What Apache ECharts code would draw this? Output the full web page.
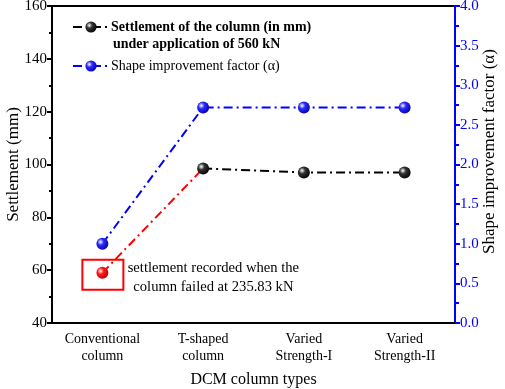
<!DOCTYPE html>
<html>
<head>
<meta charset="utf-8">
<script src="https://cdn.jsdelivr.net/npm/echarts@6/dist/echarts.min.js"></script>
<style>
  html, body { margin: 0; padding: 0; background: #fff; }
  #chart { width: 505px; height: 389px; }
</style>
</head>
<body>
<div id="chart"></div>
<script>
const columnTypes = ['Conventional\ncolumn', 'T-shaped\ncolumn', 'Varied\nStrength-I', 'Varied\nStrength-II'];
// settlement (mm) after 560 kN, first column failed earlier -> shown in red
const settlement = [null, 98.5, 97.0, 97.0];
const failedSettlement = [59.0, 98.5, null, null];
const shapeFactor = [1.0, 2.72, 2.72, 2.72];

const serif = 'Liberation Serif';
const settleName = 'Settlement of the column (in mm)';
const shapeName = 'Shape improvement factor (\u03b1)';

function ball(c, dark) {
  return {
    type: 'radial', x: 0.35, y: 0.35, r: 0.75,
    colorStops: [
      {offset: 0, color: '#ffffff'},
      {offset: 0.35, color: c},
      {offset: 1, color: dark}
    ]
  };
}
const dashDot = [9, 4, 2, 4];

const chart = echarts.init(document.getElementById('chart'));

const opts = {
  animation: false,
  textStyle: {fontFamily: serif},
  grid: {left: 52, right: 50, top: 6, bottom: 66, show: true, borderColor: '#000', borderWidth: 2,
    outerBoundsMode: 'none', containLabel: false},
  legend: {
    orient: 'vertical',
    left: 72, top: 20,
    padding: 0,
    itemWidth: 36, itemHeight: 14,
    itemGap: 25,
    textStyle: {fontFamily: serif, fontSize: 14, color: '#000', padding: [0, 0, 0, -3]},
    data: [
      {name: settleName, textStyle: {fontWeight: 'bold'}},
      {name: shapeName}
    ]
  },
  xAxis: [
    {
      type: 'category',
      data: columnTypes,
      axisLine: {lineStyle: {color: '#000', width: 2}},
      axisTick: {alignWithLabel: true, length: 6, lineStyle: {width: 2, color: '#000'}},
      axisLabel: {fontSize: 14, color: '#000', lineHeight: 17, margin: 8, fontFamily: serif},
      name: 'DCM column types',
      nameLocation: 'middle',
      nameGap: 49,
      nameMoveOverlap: false,
      nameTextStyle: {fontSize: 16, color: '#000', fontFamily: serif}
    },
    {
      type: 'category',
      data: columnTypes,
      position: 'bottom',
      axisLine: {show: false},
      axisTick: {length: 4, lineStyle: {width: 2, color: '#000'}},
      axisLabel: {show: false}
    }
  ],
  yAxis: [
    {
      type: 'value',
      min: 40, max: 160, interval: 20,
      splitLine: {show: false},
      axisLine: {show: true, lineStyle: {color: '#000', width: 2}},
      axisTick: {show: true, length: 5, lineStyle: {width: 2}},
      minorTick: {show: true, splitNumber: 2, length: 3, lineStyle: {color: '#000', width: 2}},
      axisLabel: {fontSize: 15, color: '#000', margin: 5, fontFamily: serif},
      name: 'Settlement (mm)',
      nameLocation: 'middle',
      nameGap: 30,
      nameMoveOverlap: false,
      nameTextStyle: {fontSize: 17, color: '#000', fontFamily: serif}
    },
    {
      type: 'value',
      min: 0, max: 4, interval: 0.5,
      position: 'right',
      splitLine: {show: false},
      axisLine: {show: true, lineStyle: {color: '#0000ff', width: 2}},
      axisTick: {show: true, length: 5, lineStyle: {width: 2, color: '#0000ff'}},
      minorTick: {show: true, splitNumber: 2, length: 4, lineStyle: {color: '#0000ff', width: 2}},
      axisLabel: {fontSize: 15, color: '#0000ff', margin: 5, fontFamily: serif,
        formatter: v => v.toFixed(1)},
      name: 'Shape improvement factor (\u03b1)',
      nameLocation: 'middle',
      nameGap: 26,
      nameMoveOverlap: false,
      nameTextStyle: {fontSize: 17, color: '#000', fontFamily: serif, padding: [0, 0, 0, 26]}
    }
  ],
  series: [
    {
      name: 'failed',
      type: 'line',
      yAxisIndex: 0,
      data: failedSettlement.map((v, i) => i === 0 ? {value: v} : {value: v, symbol: 'none'}),
      connectNulls: false,
      symbol: 'circle', symbolSize: 12,
      lineStyle: {color: '#ff0000', width: 2, type: dashDot},
      itemStyle: {color: ball('#ff1a1a', '#b00000'), borderWidth: 0}
    },
    {
      name: settleName,
      type: 'line',
      yAxisIndex: 0,
      data: settlement,
      symbol: 'circle', symbolSize: 12,
      lineStyle: {color: '#000', width: 2, type: dashDot},
      itemStyle: {color: ball('#333333', '#000000'), borderWidth: 0}
    },
    {
      name: shapeName,
      type: 'line',
      yAxisIndex: 1,
      data: shapeFactor,
      symbol: 'circle', symbolSize: 12,
      lineStyle: {color: '#0000ff', width: 2, type: dashDot},
      itemStyle: {color: ball('#2a2aff', '#0000a0'), borderWidth: 0}
    }
  ]
};

chart.setOption(opts);

// annotation around the failed point
const p = chart.convertToPixel({xAxisIndex: 0, yAxisIndex: 0}, [0, failedSettlement[0]]);
chart.setOption({
  graphic: [
    {
      type: 'text', left: 113, top: 37,
      style: {text: 'under application of 560 kN', font: 'bold 14px ' + serif, fill: '#000'}
    },
    {
      type: 'rect', shape: {x: p[0] - 20, y: p[1] - 13, width: 41, height: 30},
      style: {fill: 'none', stroke: '#ff0000', lineWidth: 2}
    },
    {
      type: 'text', x: p[0] + 111, y: p[1] - 14,
      style: {
        text: 'settlement recorded when the\ncolumn failed at 235.83 kN',
        font: '14.6px ' + serif, fill: '#000', align: 'center', lineHeight: 19
      }
    }
  ]
});
</script>
</body>
</html>
